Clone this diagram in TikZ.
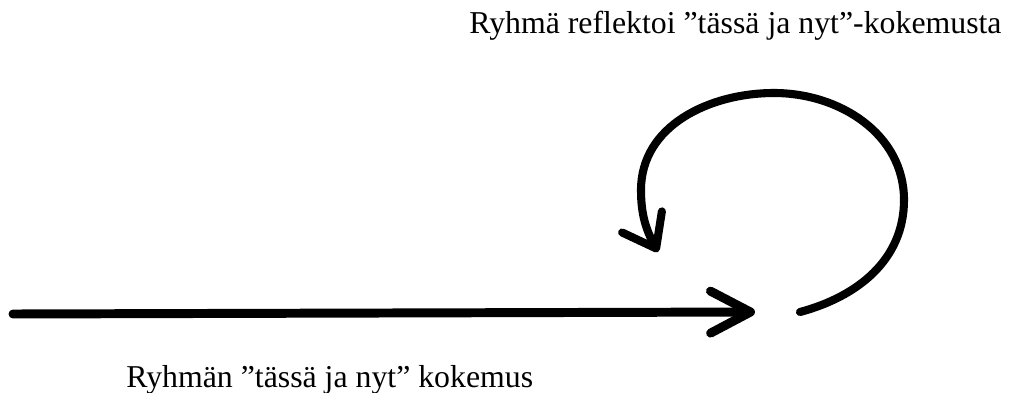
\documentclass[tikz,border=0pt]{standalone}
\usepackage{fontspec}
\setmainfont{Liberation Serif}
\usepackage{tikz}
\usetikzlibrary{arrows.meta,positioning}

\begin{document}
\begin{tikzpicture}[
  font=\fontsize{18.1}{22}\selectfont,
  pfeil/.style={line width=5.1pt, line cap=round,
                -{Straight Barb[round, length=0.8cm, width=0.84cm]}},
  schleife/.style={line width=4.6pt, line cap=round,
                -{Straight Barb[round, length=0.6cm, width=0.9cm]}},
  beschrift/.style={anchor=base west, inner sep=0pt}
]
\useasboundingbox (0,0) rectangle (20.2,7.84);

% ---------- Texte --------------------------------------------------
\node[beschrift] (reflexion) at (9.38,7.18) {Ryhmä reflektoi ”tässä ja nyt”-kokemusta};
\node[beschrift] (kokemus) at (2.52,0.10) {Ryhmän ”tässä ja nyt” kokemus};

% ---------- waagerechter Pfeil --------------------------------------
\coordinate (linie-a) at (0.26,1.56);
\coordinate (linie-b) at (15.1,1.60);
\draw[pfeil] (linie-a) -- (linie-b);

% ---------- Schleife ------------------------------------------------
\coordinate (bogen-a) at (16.0,1.60);
\coordinate (bogen-r) at (18.08,3.84);
\coordinate (bogen-o) at (15.48,5.98);
\coordinate (bogen-l) at (12.82,4.04);
\coordinate (bogen-b) at (13.16,2.80);
\draw[schleife] (bogen-a) to[out=15, in=-90] (bogen-r)
  to[out=90, in=0] (bogen-o)
  to[out=180, in=90] (bogen-l)
  to[out=-90, in=118] (bogen-b);

\end{tikzpicture}
\end{document}
